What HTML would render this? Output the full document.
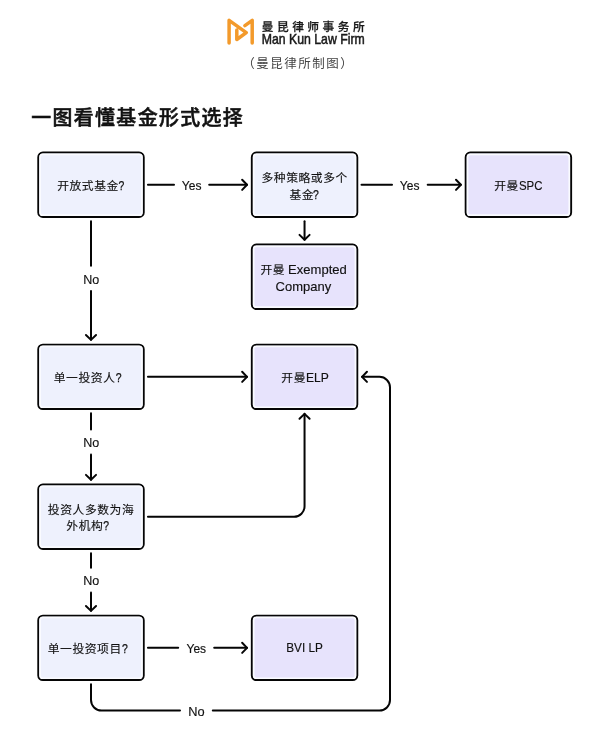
<!DOCTYPE html>
<html lang="zh-CN">
<head>
<meta charset="utf-8">
<title>一图看懂基金形式选择</title>
<style>
html,body{margin:0;padding:0;background:#fff;}
body{width:600px;height:735px;overflow:hidden;position:relative;font-family:"Liberation Sans","Noto Sans CJK SC",sans-serif;}
svg{position:absolute;left:0;top:0;display:block;will-change:transform;}
text{font-family:"Liberation Sans","Noto Sans CJK SC",sans-serif;}
.t{font-size:12.5px;fill:#111;stroke:#111;stroke-width:0.25px;}
.l{font-size:12.6px;stroke-width:0.15px;}
.q{font-size:12.5px;stroke-width:0.25px;}
.c{font-size:11.8px;letter-spacing:0.55px;font-weight:400;stroke-width:0.12px;}
.box{stroke:#050505;stroke-width:2;}
.halo{fill:none;stroke:#fafbff;stroke-width:1.7;}
.b{fill:#eef1fd;}
.p{fill:#e7e3fc;}
.ln{fill:none;stroke:#050505;stroke-width:2;stroke-linecap:round;stroke-linejoin:round;}
.logo{fill:none;stroke:#f39a2b;stroke-width:3.5;stroke-linecap:round;stroke-linejoin:round;}
.cn{font-size:11.7px;font-weight:500;fill:#1a1a1a;stroke:#1a1a1a;stroke-width:0.25px;letter-spacing:3.5px;}
.en{font-size:14.8px;fill:#1a1a1a;stroke:#1a1a1a;stroke-width:0.55px;}
.cap{font-size:12.5px;fill:#444;letter-spacing:1.5px;}
.title{font-size:19.9px;font-weight:500;fill:#111;stroke:#111;stroke-width:0.55px;letter-spacing:1.4px;}
</style>
</head>
<body>
<svg width="600" height="735" viewBox="0 0 600 735">
  <g class="logo">
    <path d="M229.1 43.1 V20.3 L246.3 32.6 L236.8 39.5 V30"/>
    <path d="M244.9 25.6 L252.2 20.3 V43.1"/>
  </g>
  <text class="cn" x="261.8" y="30.7">曼昆律师事务所</text>
  <text class="en" x="261.7" y="43.7" textLength="103" lengthAdjust="spacingAndGlyphs">Man Kun Law Firm</text>
  <text class="cap" x="242.2" y="67.5">（曼昆律所制图）</text>
  <text class="title" x="31.2" y="125.2">一图看懂基金形式选择</text>
  <g class="ln">
    <path d="M147.95 184.8 H174"/>
    <path d="M209.2 184.8 H247.05"/>
    <path d="M242.15 179.75 L247.05 184.8 L242.15 189.85"/>
    <path d="M361.5 184.8 H392"/>
    <path d="M427.7 184.8 H460.9"/>
    <path d="M456 179.75 L460.9 184.8 L456 189.85"/>
    <path d="M304.55 221.25 V239.8"/>
    <path d="M299.5 234.9 L304.55 239.8 L309.6 234.9"/>
    <path d="M91.0 221.25 V265.8"/>
    <path d="M91.0 291 V339.85"/>
    <path d="M85.95 334.95 L91 339.85 L96.05 334.95"/>
    <path d="M147.95 376.85 H247.05"/>
    <path d="M242.15 371.8 L247.05 376.85 L242.15 381.9"/>
    <path d="M91.0 413.3 V429.5"/>
    <path d="M91.0 454.5 V479.75"/>
    <path d="M85.95 474.85 L91 479.75 L96.05 474.85"/>
    <path d="M147.95 516.75 H294.05 A10.5 10.5 0 0 0 304.55 506.25 V413.85"/>
    <path d="M299.5 418.75 L304.55 413.85 L309.6 418.75"/>
    <path d="M91.0 553.2 V567.8"/>
    <path d="M91.0 592.5 V610.85"/>
    <path d="M85.95 605.95 L91 610.85 L96.05 605.95"/>
    <path d="M147.95 647.85 H178.2"/>
    <path d="M214.2 647.85 H247.05"/>
    <path d="M242.15 642.8 L247.05 647.85 L242.15 652.9"/>
    <path d="M91.0 684.3 V700.1 A10.5 10.5 0 0 0 101.5 710.6 H180"/>
    <path d="M212.8 710.6 H379.5 A10.5 10.5 0 0 0 390.0 700.1 V387.35 A10.5 10.5 0 0 0 379.5 376.85 H362.05"/>
    <path d="M366.95 371.8 L362.05 376.85 L366.95 381.9"/>
  </g>
  <g>
    <rect class="box b" x="38.3" y="152.6" width="105.4" height="64.4" rx="4.6"/><rect class="halo" x="40.1" y="154.4" width="101.8" height="60.8" rx="2.8"/>
    <rect class="box b" x="251.85" y="152.6" width="105.4" height="64.4" rx="4.6"/><rect class="halo" x="253.65" y="154.4" width="101.8" height="60.8" rx="2.8"/>
    <rect class="box p" x="465.7" y="152.6" width="105.4" height="64.4" rx="4.6"/><rect class="halo" x="467.5" y="154.4" width="101.8" height="60.8" rx="2.8"/>
    <rect class="box p" x="251.85" y="244.6" width="105.4" height="64.4" rx="4.6"/><rect class="halo" x="253.65" y="246.4" width="101.8" height="60.8" rx="2.8"/>
    <rect class="box b" x="38.3" y="344.65" width="105.4" height="64.4" rx="4.6"/><rect class="halo" x="40.1" y="346.45" width="101.8" height="60.8" rx="2.8"/>
    <rect class="box p" x="251.85" y="344.65" width="105.4" height="64.4" rx="4.6"/><rect class="halo" x="253.65" y="346.45" width="101.8" height="60.8" rx="2.8"/>
    <rect class="box b" x="38.3" y="484.55" width="105.4" height="64.4" rx="4.6"/><rect class="halo" x="40.1" y="486.35" width="101.8" height="60.8" rx="2.8"/>
    <rect class="box b" x="38.3" y="615.65" width="105.4" height="64.4" rx="4.6"/><rect class="halo" x="40.1" y="617.45" width="101.8" height="60.8" rx="2.8"/>
    <rect class="box p" x="251.85" y="615.65" width="105.4" height="64.4" rx="4.6"/><rect class="halo" x="253.65" y="617.45" width="101.8" height="60.8" rx="2.8"/>
  </g>
  <g>
    <text class="t"><tspan class="c" x="57.15" y="190.46">开放式基金</tspan><tspan class="q" x="118.53" y="190.46" textLength="5.8" lengthAdjust="spacingAndGlyphs">?</tspan></text>
    <text class="t"><tspan class="c" x="261.46" y="182.42">多种策略或多个</tspan><tspan class="c" x="289.45" y="198.79">基金</tspan><tspan class="q" x="313.08" y="198.79" textLength="5.8" lengthAdjust="spacingAndGlyphs">?</tspan></text>
    <text class="t"><tspan class="c" x="494.27" y="190.27">开曼</tspan><tspan class="l" x="518.97" y="190.27" textLength="23.5" lengthAdjust="spacingAndGlyphs">SPC</tspan></text>
    <text class="t"><tspan class="c" x="260.47" y="273.67">开曼</tspan> <tspan class="l" x="288.08" y="273.67" textLength="58.69" lengthAdjust="spacingAndGlyphs">Exempted</tspan> <tspan class="l" x="275.62" y="290.69" textLength="55.54" lengthAdjust="spacingAndGlyphs">Company</tspan></text>
    <text class="t"><tspan class="c" x="53.75" y="382">单一投资人</tspan><tspan class="q" x="115.79" y="382" textLength="5.8" lengthAdjust="spacingAndGlyphs">?</tspan></text>
    <text class="t"><tspan class="c" x="281.36" y="382.25">开曼</tspan><tspan class="l" x="306.04" y="382.25" textLength="22.86" lengthAdjust="spacingAndGlyphs">ELP</tspan></text>
    <text class="t"><tspan class="c" x="47.87" y="514.25">投资人多数为海</tspan><tspan class="c" x="66.3" y="530.15">外机构</tspan><tspan class="q" x="103.14" y="530.15" textLength="5.8" lengthAdjust="spacingAndGlyphs">?</tspan></text>
    <text class="t"><tspan class="c" x="47.7" y="653.35">单一投资项目</tspan><tspan class="q" x="121.88" y="653.35" textLength="5.8" lengthAdjust="spacingAndGlyphs">?</tspan></text>
    <text class="t"><tspan class="l" x="286.25" y="652.4" textLength="36.57" lengthAdjust="spacingAndGlyphs">BVI LP</tspan></text>
    <text class="t"><tspan class="l" x="181.81" y="190.29" textLength="19.65" lengthAdjust="spacingAndGlyphs">Yes</tspan></text>
    <text class="t"><tspan class="l" x="399.81" y="190.29" textLength="19.65" lengthAdjust="spacingAndGlyphs">Yes</tspan></text>
    <text class="t"><tspan class="l" x="83.23" y="283.98" textLength="16.07" lengthAdjust="spacingAndGlyphs">No</tspan></text>
    <text class="t"><tspan class="l" x="83.23" y="447.22" textLength="16.07" lengthAdjust="spacingAndGlyphs">No</tspan></text>
    <text class="t"><tspan class="l" x="83.23" y="585.35" textLength="16.07" lengthAdjust="spacingAndGlyphs">No</tspan></text>
    <text class="t"><tspan class="l" x="186.5" y="652.81" textLength="19.6" lengthAdjust="spacingAndGlyphs">Yes</tspan></text>
    <text class="t"><tspan class="l" x="188.34" y="715.98" textLength="16.4" lengthAdjust="spacingAndGlyphs">No</tspan></text>
  </g>
</svg>
</body>
</html>
